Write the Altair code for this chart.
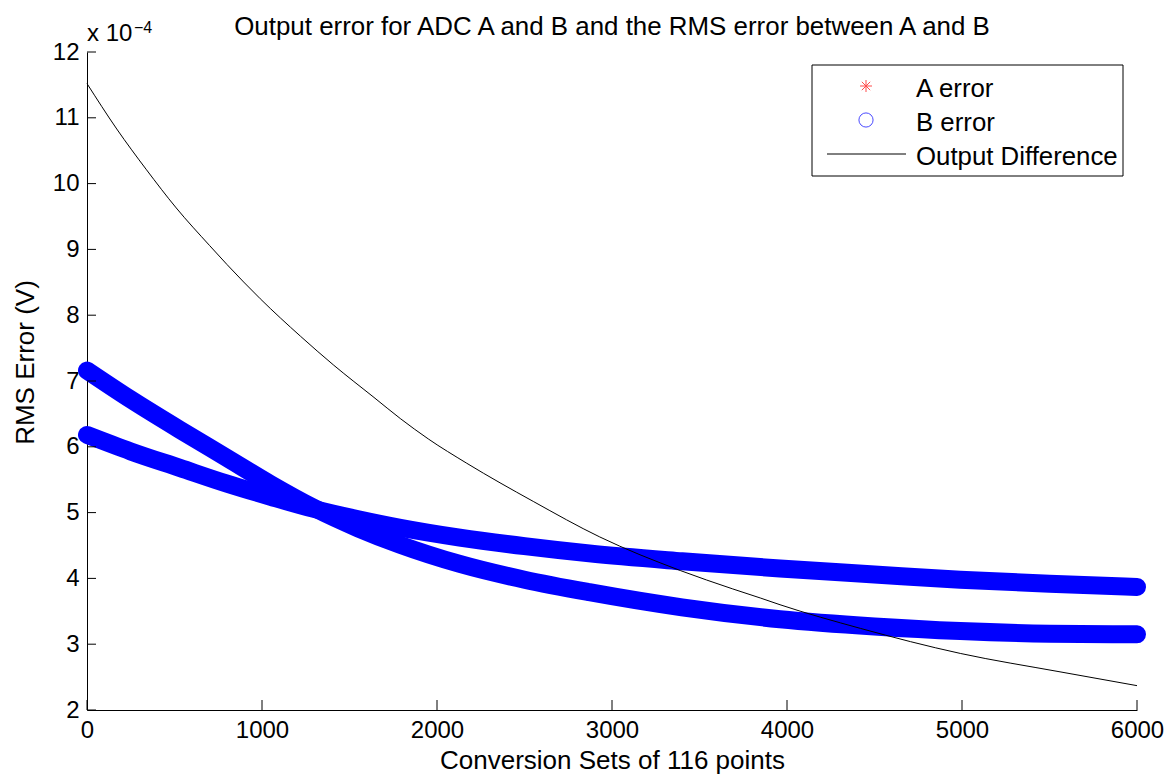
import altair as alt
import pandas as pd

# ---------------- data ----------------
curve_x = [0, 250, 530, 800, 1050, 1290, 1550, 1790, 2130, 2500, 2870, 3400, 3960, 4500, 4990, 5500, 6000]
curve1_y = [7.16, 6.72, 6.26, 5.83, 5.43, 5.08, 4.76, 4.51, 4.22, 3.98, 3.79, 3.56, 3.38, 3.27, 3.20, 3.16, 3.15]
curve2_y = [6.18, 5.93, 5.68, 5.44, 5.24, 5.06, 4.90, 4.77, 4.62, 4.49, 4.38, 4.26, 4.15, 4.06, 3.98, 3.92, 3.87]

diff_x = [0, 170, 340, 510, 700, 800, 990, 1220, 1410, 1640, 1790, 1950, 2170, 2550, 2930, 3390, 3690,
          3850, 3960, 4420, 4990, 5560, 6000]
diff_y = [11.52, 10.83, 10.21, 9.63, 9.06, 8.77, 8.25, 7.68, 7.24, 6.75, 6.43, 6.12, 5.75, 5.17, 4.63, 4.12,
          3.84, 3.70, 3.60, 3.24, 2.86, 2.58, 2.37]

x_ticks = [0, 1000, 2000, 3000, 4000, 5000, 6000]
y_ticks = [2, 3, 4, 5, 6, 7, 8, 9, 10, 11, 12]

legend_labels = ["A error", "B error", "Output Difference"]
title_text = "Output error for ADC A and B and the RMS error between A and B"
x_title = "Conversion Sets of 116 points"
y_title = "RMS Error (V)"

FONT = "Liberation Sans, Arial, Helvetica, sans-serif"
STAR = "M0,-1L0,1M-1,0L1,0M-0.7,-0.7L0.7,0.7M-0.7,0.7L0.7,-0.7"

W, H = 1050, 658

# ---------------- tables ----------------
curves = pd.concat([
    pd.DataFrame({"x": curve_x, "y": curve1_y, "curve": "c1"}),
    pd.DataFrame({"x": curve_x, "y": curve2_y, "curve": "c2"}),
])
diff = pd.DataFrame({"x": diff_x, "y": diff_y})
xt = pd.DataFrame({"t": x_ticks})
yt = pd.DataFrame({"t": y_ticks})
one = pd.DataFrame({"a": [0]})

xscale = alt.Scale(domain=[0, 6000], nice=False, zero=False)
yscale = alt.Scale(domain=[2, 12], nice=False, zero=False)

xaxis = alt.Axis(values=x_ticks, format="d", title=x_title, labelFlush=False, labelOverlap=False,
                 labelPadding=8, titleY=58, titleBaseline="alphabetic", titleX=W / 2)
yaxis = alt.Axis(values=y_ticks, format="d", title=y_title, labelPadding=8, labelOverlap=False,
                 titleAngle=-90, titleX=-54, titleY=310, titleBaseline="alphabetic",
                 titleAlign="center")

stars = alt.Chart(curves).mark_point(shape=STAR, color="#FF0000", size=144, strokeWidth=1).encode(
    x=alt.X("x:Q", scale=xscale, axis=xaxis),
    y=alt.Y("y:Q", scale=yscale, axis=yaxis),
    detail="curve:N",
)

bands = alt.Chart(curves).mark_line(color="#0000FF", strokeWidth=18, strokeCap="round",
                                    strokeJoin="round", interpolate="monotone").encode(
    x=alt.X("x:Q", scale=xscale),
    y=alt.Y("y:Q", scale=yscale),
    detail="curve:N",
)

line = alt.Chart(diff).mark_line(color="black", strokeWidth=1, interpolate="monotone").encode(
    x=alt.X("x:Q", scale=xscale),
    y=alt.Y("y:Q", scale=yscale),
)

xtick_rules = alt.Chart(xt).mark_rule(color="black", strokeWidth=1).encode(
    x=alt.X("t:Q", scale=xscale),
    y=alt.value(H),
    y2=alt.value(H - 10),
)
ytick_rules = alt.Chart(yt).mark_rule(color="black", strokeWidth=1).encode(
    y=alt.Y("t:Q", scale=yscale),
    x=alt.value(0),
    x2=alt.value(9),
)

# ---------------- legend (drawn) ----------------
leg_box = alt.Chart(one).mark_rect(fill="white", stroke="black", strokeWidth=1).encode(
    x=alt.value(725), x2=alt.value(1036), y=alt.value(13), y2=alt.value(124)
)
leg_star = alt.Chart(one).mark_point(shape=STAR, color="#FF0000", size=144, strokeWidth=1).encode(
    x=alt.value(779), y=alt.value(34)
)
leg_circle = alt.Chart(one).mark_point(shape="circle", color="#0000FF", size=201, strokeWidth=1,
                                       filled=False).encode(
    x=alt.value(779), y=alt.value(68)
)
leg_line = alt.Chart(one).mark_rule(color="black", strokeWidth=1).encode(
    x=alt.value(740), x2=alt.value(819), y=alt.value(102)
)
leg_texts = [
    alt.Chart(one).mark_text(align="left", baseline="alphabetic", font=FONT, fontSize=25.8,
                             color="black").encode(
        x=alt.value(829), y=alt.value(yy), text=alt.value(lab)
    )
    for lab, yy in zip(legend_labels, [45, 79, 113])
]

exp_base = alt.Chart(one).mark_text(align="left", baseline="alphabetic", font=FONT, fontSize=24,
                                    color="black").encode(
    x=alt.value(0), y=alt.value(-11), text=alt.value("x 10")
)
exp_sup = alt.Chart(one).mark_text(align="left", baseline="alphabetic", font=FONT, fontSize=16,
                                   color="black").encode(
    x=alt.value(47), y=alt.value(-19), text=alt.value("\u22124")
)
title_mark = alt.Chart(one).mark_text(align="center", baseline="alphabetic", font=FONT, fontSize=25.9,
                                      color="black").encode(
    x=alt.value(W / 2), y=alt.value(-17), text=alt.value(title_text)
)

chart = alt.layer(
    stars, bands, line, xtick_rules, ytick_rules,
    leg_box, leg_star, leg_circle, leg_line, *leg_texts, exp_base, exp_sup, title_mark,
).properties(
    width=W,
    height=H,
    autosize=alt.AutoSizeParams(type="none"),
    padding={"left": 87, "top": 52, "right": 35, "bottom": 70},
    background="white",
).configure_view(
    stroke=None
).configure_axis(
    grid=False,
    ticks=False,
    domainColor="black",
    domainWidth=1,
    labelFont=FONT,
    labelFontSize=24,
    labelColor="black",
    titleFont=FONT,
    titleFontSize=26,
    titleFontWeight="normal",
    titleColor="black",
)

chart.save("out.html", embed_options={"renderer": "svg", "actions": False})
